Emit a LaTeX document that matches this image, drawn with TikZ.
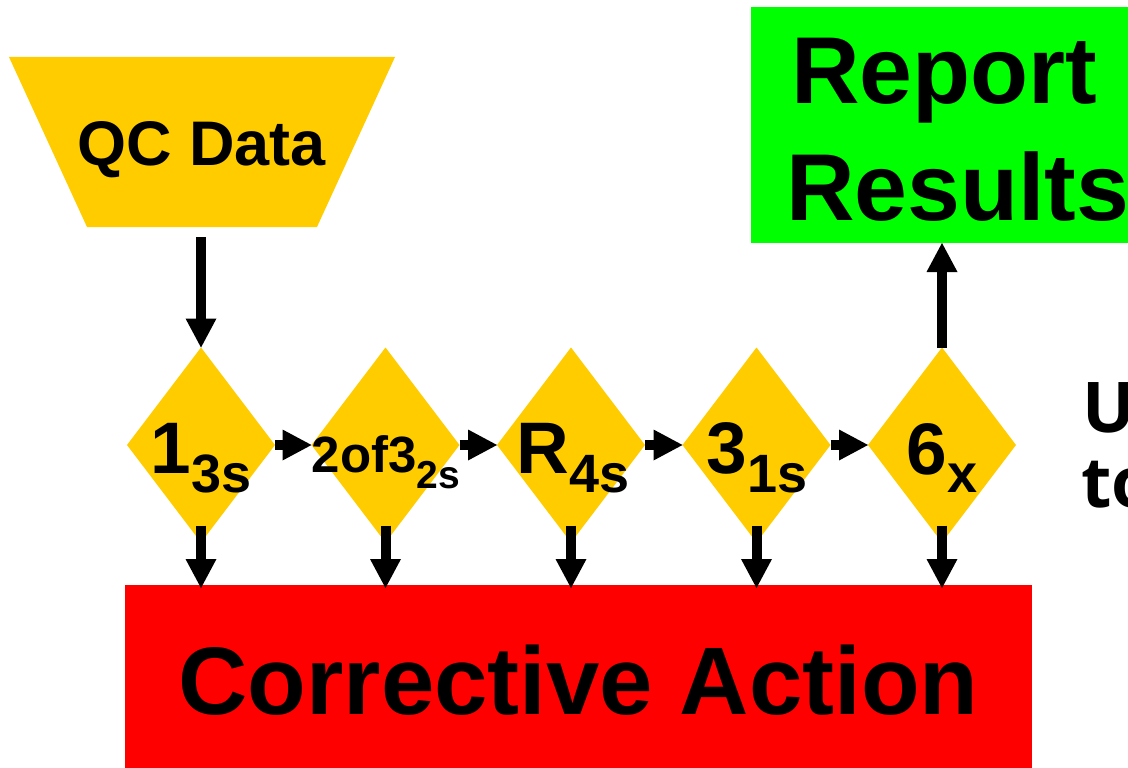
\documentclass[tikz,border=0pt]{standalone}
\usepackage{fontspec}
\setmainfont{Liberation Sans}
\newfontfamily\osfont{Open Sans}
\usetikzlibrary{shapes.geometric,arrows.meta}
\definecolor{gold}{HTML}{FFCC00}
\definecolor{redbox}{HTML}{FF0000}
\definecolor{greenbox}{HTML}{00FF00}
\begin{document}
\begin{tikzpicture}[x=1pt,y=-1pt,
  dia/.style={diamond, fill=gold, minimum width=148pt, minimum height=195pt, inner sep=0pt, outer sep=0pt},
  arr/.style={line width=10pt, -{Triangle[length=29pt,width=31pt,line width=0pt]}},
  lbl/.style={inner sep=0pt, outer sep=0pt, anchor=base, font=\bfseries},
  lblw/.style={inner sep=0pt, outer sep=0pt, anchor=base west, font=\bfseries},
  boxr/.style={inner sep=0pt, outer sep=0pt, anchor=north west}
]
\path[use as bounding box] (0,0) rectangle (1128,768);
\clip (0,0) rectangle (1128,768);

% QC Data trapezoid
\fill[gold] (9,57) -- (395,57) -- (317,227) -- (87,227) -- cycle;
\node[lbl] (qc) at (201.5,165) {\fontsize{63}{63}\selectfont QC Data};
\coordinate (qcb) at (201,237);

% Report Results box
\node[boxr, fill=greenbox, minimum width=396pt, minimum height=236pt] (rep) at (751,7) {};
\node[lblw] (rep1) at (791,103) {\fontsize{95}{95}\selectfont Report};
\node[lblw] (rep2) at (786,220) {\fontsize{95}{95}\selectfont Results};

% Corrective Action box
\node[boxr, fill=redbox, minimum width=907pt, minimum height=190pt] (ca) at (125,585) {};
\node[lbl] (catext) at (578.5,714) {\fontsize{96}{96}\selectfont Corrective Action};

% diamonds
\node[dia] (d1) at (201,445) {};
\node[dia] (d2) at (385.5,445) {};
\node[dia] (d3) at (571,445) {};
\node[dia] (d4) at (756.5,445) {};
\node[dia] (d5) at (942,445) {};

\node[lbl] (t1) at (201,473) {\fontsize{73}{73}\selectfont 1\raisebox{-19pt}{\fontsize{54}{54}\selectfont 3s}};
\node[lbl] (t2) at (386,472) {\fontsize{51}{51}\selectfont 2of3\raisebox{-16pt}{\fontsize{39}{39}\selectfont 2s}};
\node[lbl] (t3) at (573,473) {\fontsize{73}{73}\selectfont R\raisebox{-19pt}{\fontsize{54}{54}\selectfont 4s}};
\node[lbl] (t4) at (757,473) {\fontsize{73}{73}\selectfont 3\raisebox{-19pt}{\fontsize{54}{54}\selectfont 1s}};
\node[lbl] (t5) at (942,474) {\fontsize{73}{73}\selectfont 6\raisebox{-18pt}{\fontsize{54}{54}\selectfont x}};

% side text (cut off)
\node[lblw] (u1) at (1082,432) {\osfont\fontsize{70}{70}\selectfont U};
\node[lblw] (u2) at (1081,507) {\osfont\fontsize{70}{70}\selectfont to};

% connectors
\draw[arr] (qcb) -- (d1.north);
\draw[arr] (d1.east) -- (d2.west);
\draw[arr] (d2.east) -- (d3.west);
\draw[arr] (d3.east) -- (d4.west);
\draw[arr] (d4.east) -- (d5.west);
\foreach \d in {d1,d2,d3,d4,d5}{
  \draw[arr] ([yshift=17pt]\d.south) -- ([yshift=-3pt]\d.south |- ca.north);
}
\draw[arr] (d5.north) -- (d5.north |- rep.south);
\end{tikzpicture}
\end{document}
